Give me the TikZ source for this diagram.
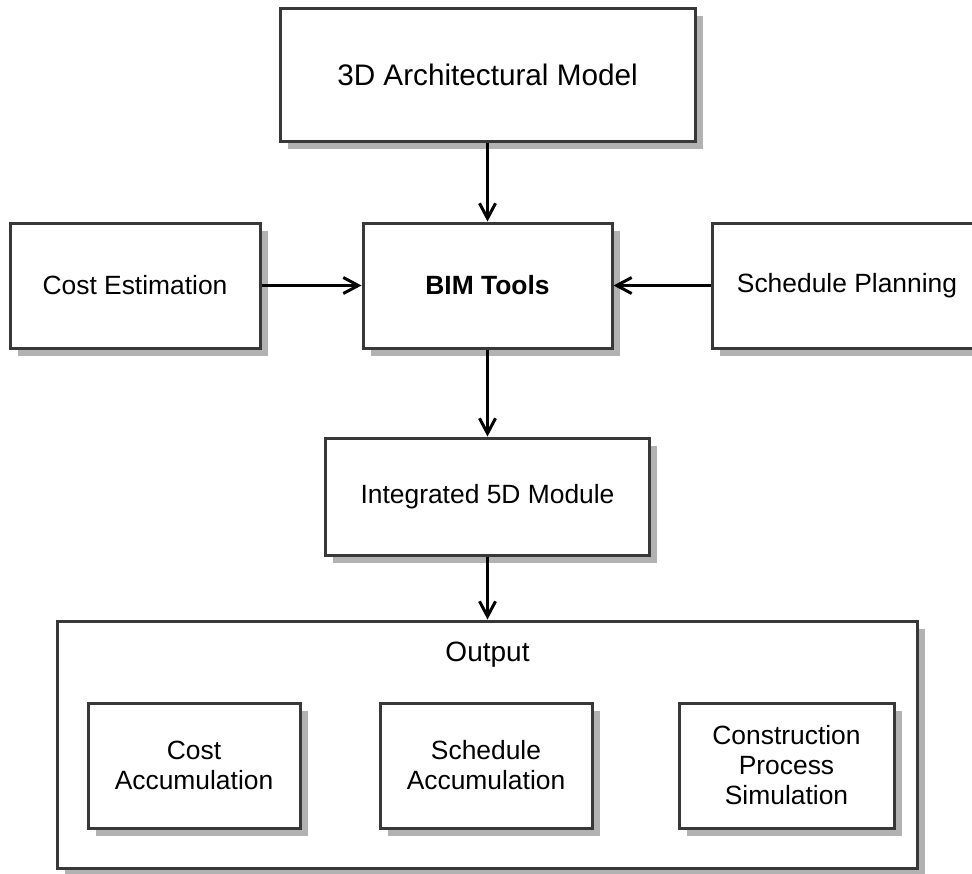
\documentclass[tikz,border=0pt]{standalone}
\usepackage{fontspec}
\setmainfont{Liberation Sans}
\usetikzlibrary{shadows, arrows.meta}

\begin{document}
\begin{tikzpicture}[x=0.5pt, y=-0.5pt,
  box/.style={draw=black!78, line width=1.5pt, fill=white, inner sep=0pt, align=center,
    font=\fontsize{13.2}{15}\selectfont,
    drop shadow={shadow xshift=3.75pt, shadow yshift=-3.75pt, fill=black!30, opacity=1}},
  link/.style={line width=1.5pt, -{Straight Barb[length=7.5pt, width=8pt]}}]
\useasboundingbox (0, 0) rectangle (972, 873);
\node[box, minimum width=207.5pt, minimum height=66.5pt, font=\fontsize{14.85}{17}\selectfont] (model) at (487.5, 74.5) {3D Architectural Model};
\node[box, minimum width=125pt, minimum height=62.5pt] (cost) at (135, 285.5) {Cost Estimation};
\node[box, minimum width=124.5pt, minimum height=62.5pt, font=\fontsize{13.2}{15}\selectfont\bfseries] (bim) at (487.5, 285.5) {BIM Tools};
\node[box, minimum width=135pt, minimum height=62.5pt] (plan) at (847, 285.5) {Schedule Planning};
\node[box, minimum width=162pt, minimum height=58.5pt] (fived) at (487.5, 496.5) {Integrated 5D Module};
\node[box, minimum width=430pt, minimum height=123.5pt] (output) at (487.5, 744.5) {};
\node[font=\fontsize{14}{16}\selectfont] (outtitle) at (487.5, 655) {Output};
\node[box, minimum width=106pt, minimum height=62.5pt] (costacc) at (194, 765.5) {Cost\\Accumulation};
\node[box, minimum width=106pt, minimum height=62.5pt] (schedacc) at (486, 765.5) {Schedule\\Accumulation};
\node[box, minimum width=107.5pt, minimum height=62.5pt] (constr) at (786.5, 765.5) {Construction\\Process\\Simulation};
\draw[link] (model) -- (bim);
\draw[link] (cost) -- (bim);
\draw[link] (plan) -- (bim);
\draw[link] (bim) -- (fived);
\draw[link] (fived) -- (output);
\end{tikzpicture}
\end{document}
